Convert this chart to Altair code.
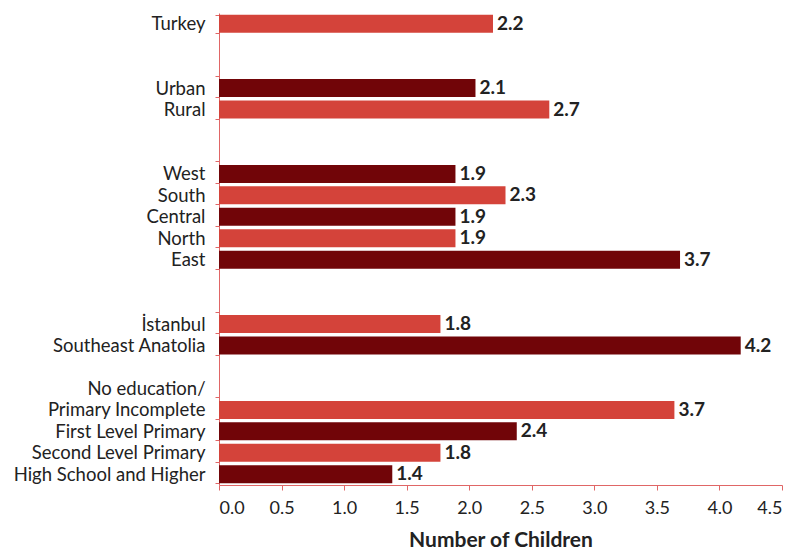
import altair as alt
import pandas as pd

# rows top to bottom; "gapN" rows are empty spacer rows
rows = ["Turkey", "gap1", "gap2", "Urban", "Rural", "gap3", "gap4",
        "West", "South", "Central", "North", "East", "gap5", "gap6",
        "İstanbul", "Southeast Anatolia", "gap7", "No education/",
        "Primary Incomplete", "First Level Primary", "Second Level Primary",
        "High School and Higher"]

bar_rows = ["Turkey", "Urban", "Rural", "West", "South", "Central", "North", "East",
            "İstanbul", "Southeast Anatolia", "Primary Incomplete",
            "First Level Primary", "Second Level Primary", "High School and Higher"]
values = [2.19, 2.05, 2.64, 1.89, 2.29, 1.89, 1.89, 3.685,
          1.77, 4.17, 3.64, 2.38, 1.77, 1.385]
labels = ["2.2", "2.1", "2.7", "1.9", "2.3", "1.9", "1.9", "3.7",
          "1.8", "4.2", "3.7", "2.4", "1.8", "1.4"]
shade = ["light", "dark", "light", "dark", "light", "dark", "light", "dark",
         "light", "dark", "light", "dark", "light", "dark"]

df = pd.DataFrame({"row": bar_rows, "value": values, "label": labels, "shade": shade})

FONT = "Lato"
AXIS_COLOR = "#E06666"

y_enc = alt.Y("row:N", sort=rows, title=None,
              scale=alt.Scale(domain=rows, paddingInner=0.16, paddingOuter=0.08),
              axis=alt.Axis(
                  title=None,
                  labelExpr="indexof(datum.label, 'gap') == 0 ? '' : datum.label",
                  labelFont=FONT, labelFontSize=18.5, labelColor="#222222",
                  labelPadding=10, tickSize=4, tickBand="extent",
                  tickColor=AXIS_COLOR, domainColor=AXIS_COLOR,
                  tickOpacity={"condition": {"test": "indexof(['gap1','gap3','gap5','gap7'], datum.value) >= 0 && !datum.extra", "value": 0}, "value": 1},
                  minExtent=206, maxExtent=206, labelLimit=300))

bars = alt.Chart(df).mark_bar().encode(
    x=alt.X("value:Q",
            scale=alt.Scale(domain=[0, 4.5], nice=False),
            axis=alt.Axis(values=[0, 0.5, 1, 1.5, 2, 2.5, 3, 3.5, 4, 4.5],
                          format=".1f", grid=False, title="Number of Children",
                          labelFont=FONT, labelFontSize=18, labelColor="#222222",
                          labelPadding=9, tickSize=5, tickColor=AXIS_COLOR,
                          domainColor=AXIS_COLOR, titleFont=FONT, titleFontSize=21,
                          titleFontWeight="bold", titleColor="#222222", titlePadding=12)),
    y=y_enc,
    color=alt.Color("shade:N", scale=alt.Scale(domain=["light", "dark"],
                                               range=["#D4433A", "#710508"]), legend=None),
)

text = alt.Chart(df).mark_text(align="left", baseline="middle", dx=4, font=FONT,
                               fontSize=19, fontWeight="bold", color="#222222").encode(
    x=alt.X("value:Q", title="Number of Children"),
    y=alt.Y("row:N", sort=rows, title=None),
    text="label:N")

chart = (bars + text).properties(
    width=563, height=472,
    padding={"left": 5, "top": -4, "right": 5, "bottom": 0},
).configure_view(stroke=None)

chart.save("out.html", embed_options={"renderer": "svg", "actions": False})
